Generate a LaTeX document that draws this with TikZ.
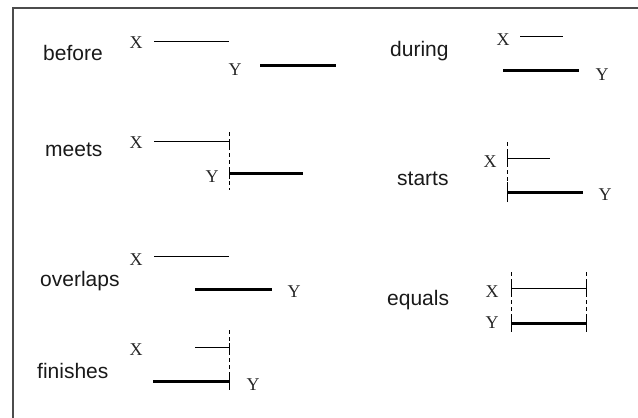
\documentclass[tikz,border=0pt]{standalone}
\usepackage{fontspec}
\setmainfont{Liberation Serif}
\newfontfamily\labfont{Liberation Sans}
\begin{document}
\begin{tikzpicture}[x=1pt,y=-1pt,
  lab/.style={anchor=base west,inner sep=0pt,font=\labfont\fontsize{21}{25}\selectfont,text=black!90},
  var/.style={anchor=base,inner sep=0pt,font=\fontsize{18}{22}\selectfont,text=black!85},
  xline/.style={line width=1pt},
  yline/.style={line width=3pt},
  guide/.style={line width=1pt,dash pattern=on 4pt off 3pt},
  tickmark/.style={line width=1pt},
  frame/.style={line width=2pt,draw=black!70}]
\useasboundingbox (0,0) rectangle (638,418);
% frame
\coordinate (f1) at (13,420);
\coordinate (f2) at (13,8);
\coordinate (f3) at (640,8);
\draw[frame] (f1) -- (f2) -- (f3);

% ---------- before ----------
\node[lab] (before) at (43,60) {before};
\node[var] (bX) at (136,48) {X};
\node[var] (bY) at (235,75) {Y};
\coordinate (bx1) at (154,41); \coordinate (bx2) at (229,41);
\coordinate (by1) at (260,65); \coordinate (by2) at (336,65);
\draw[xline] (bx1) -- (bx2);
\draw[yline] (by1) -- (by2);

% ---------- meets ----------
\node[lab] (meets) at (45,156) {meets};
\node[var] (mX) at (136,148) {X};
\node[var] (mY) at (212,182) {Y};
\coordinate (mg1) at (229,132); \coordinate (mg2) at (229,190);
\draw[guide] (mg1) -- (mg2);
\coordinate (mx1) at (154,141); \coordinate (mx2) at (229,141);
\coordinate (my1) at (229,173); \coordinate (my2) at (303,173);
\draw[xline] (mx1) -- (mx2);
\draw[yline] (my1) -- (my2);
\draw[tickmark] ([yshift=-9]mx2) -- (mx2);
\draw[tickmark] ([yshift=-6]my1) -- ([yshift=6]my1);

% ---------- overlaps ----------
\node[lab] (overlaps) at (40,286) {overlaps};
\node[var] (oX) at (136,265) {X};
\node[var] (oY) at (294,297) {Y};
\coordinate (ox1) at (154,256); \coordinate (ox2) at (229,256);
\coordinate (oy1) at (195,289); \coordinate (oy2) at (272,289);
\draw[xline] (ox1) -- (ox2);
\draw[yline] (oy1) -- (oy2);

% ---------- finishes ----------
\node[lab] (finishes) at (37,378) {finishes};
\node[var] (fX) at (136,355) {X};
\node[var] (fY) at (253,390) {Y};
\coordinate (fg1) at (229,330); \coordinate (fg2) at (229,392);
\draw[guide] (fg1) -- (fg2);
\coordinate (fx1) at (195,347); \coordinate (fx2) at (229,347);
\coordinate (fy1) at (153,381); \coordinate (fy2) at (229,381);
\draw[xline] (fx1) -- (fx2);
\draw[yline] (fy1) -- (fy2);
\draw[tickmark] ([yshift=-5]fx2) -- ([yshift=4]fx2);
\draw[tickmark] ([yshift=-8]fy2) -- ([yshift=9]fy2);

% ---------- during ----------
\node[lab] (during) at (390,56) {during};
\node[var] (dX) at (503,45) {X};
\node[var] (dY) at (602,80) {Y};
\coordinate (dx1) at (520,36); \coordinate (dx2) at (563,36);
\coordinate (dy1) at (503,70); \coordinate (dy2) at (579,70);
\draw[xline] (dx1) -- (dx2);
\draw[yline] (dy1) -- (dy2);

% ---------- starts ----------
\node[lab] (starts) at (397,185) {starts};
\node[var] (sX) at (490,167) {X};
\node[var] (sY) at (605,200) {Y};
\coordinate (sg1) at (507,142); \coordinate (sg2) at (507,202);
\draw[guide] (sg1) -- (sg2);
\coordinate (sx1) at (507,158); \coordinate (sx2) at (550,158);
\coordinate (sy1) at (507,192); \coordinate (sy2) at (583,192);
\draw[xline] (sx1) -- (sx2);
\draw[yline] (sy1) -- (sy2);
\draw[tickmark] ([yshift=-6]sx1) -- ([yshift=6]sx1);
\draw[tickmark] ([yshift=-10]sy1) -- ([yshift=10]sy1);

% ---------- equals ----------
\node[lab] (equals) at (387,305) {equals};
\node[var] (eX) at (492,297) {X};
\node[var] (eY) at (492,328) {Y};
\coordinate (eg1) at (511,272); \coordinate (eg2) at (511,332);
\coordinate (eg3) at (586,272); \coordinate (eg4) at (586,332);
\draw[guide] (eg1) -- (eg2);
\draw[guide] (eg3) -- (eg4);
\coordinate (ex1) at (511,288); \coordinate (ex2) at (586,288);
\coordinate (ey1) at (511,323); \coordinate (ey2) at (586,323);
\draw[xline] (ex1) -- (ex2);
\draw[yline] (ey1) -- (ey2);
\draw[tickmark] ([yshift=-7]ex1) -- ([yshift=7]ex1);
\draw[tickmark] ([yshift=-7]ex2) -- ([yshift=7]ex2);
\draw[tickmark] ([yshift=-8]ey1) -- ([yshift=8]ey1);
\draw[tickmark] ([yshift=-8]ey2) -- ([yshift=8]ey2);
\end{tikzpicture}
\end{document}
